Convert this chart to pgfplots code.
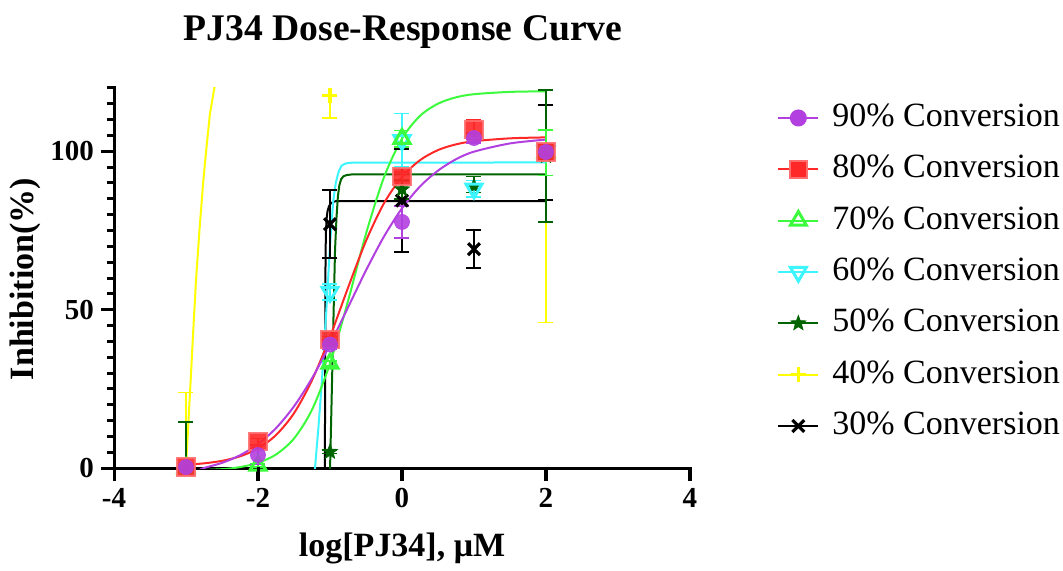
\documentclass[border=0pt]{standalone}
\usepackage{fontspec}
\setmainfont{Liberation Serif}
\usepackage{pgfplots}
\pgfplotsset{compat=1.18}
\usepackage{pgfplotstable}

\definecolor{cPurple}{RGB}{178,64,224}
\definecolor{cRed}{RGB}{255,40,40}
\definecolor{cRedE}{RGB}{255,110,110}
\definecolor{cLime}{RGB}{60,250,60}
\definecolor{cCyan}{RGB}{60,245,255}
\definecolor{cDkGreen}{RGB}{0,100,0}
\definecolor{cYellow}{RGB}{255,255,0}

\pgfdeclareplotmark{fstar}{%
  \pgfpathmoveto{\pgfpointpolar{90}{\pgfplotmarksize}}%
  \pgfpathlineto{\pgfpointpolar{126}{0.42\pgfplotmarksize}}%
  \pgfpathlineto{\pgfpointpolar{162}{\pgfplotmarksize}}%
  \pgfpathlineto{\pgfpointpolar{198}{0.42\pgfplotmarksize}}%
  \pgfpathlineto{\pgfpointpolar{234}{\pgfplotmarksize}}%
  \pgfpathlineto{\pgfpointpolar{270}{0.42\pgfplotmarksize}}%
  \pgfpathlineto{\pgfpointpolar{306}{\pgfplotmarksize}}%
  \pgfpathlineto{\pgfpointpolar{342}{0.42\pgfplotmarksize}}%
  \pgfpathlineto{\pgfpointpolar{18}{\pgfplotmarksize}}%
  \pgfpathlineto{\pgfpointpolar{54}{0.42\pgfplotmarksize}}%
  \pgfpathclose
  \pgfusepathqfillstroke
}

\pgfplotstableread{
x y ep em
-3 0.3 0 0
-2 4.1 3 3
-1 39 1.5 1.5
0 77.7 5.1 5.1
1 104.2 1.5 1.5
2 99.8 1.6 1.6
}\tPurple
\pgfplotstableread{
x y ep em
-3 0.3 0.5 0.5
-2 8.3 1 1
-1 40.5 1 1
0 92 1.5 1.5
1 106.8 3 3
2 99.8 2.6 2.6
}\tRed
\pgfplotstableread{
x y ep em
-3 0 0 0
-2 0.8 0.5 0.5
-1 33 0.8 0.8
0 104 2.6 2.6
2 99.6 7.2 7.2
}\tLime
\pgfplotstableread{
x y ep em
-1 55.6 2.6 2.6
0 103.5 8.5 8.5
1 88.2 2.6 2.6
2 100 2 2
}\tCyan
\pgfplotstableread{
x y ep em
-3 0 14.6 0
-1 5.1 0.5 0.5
0 88 3 3
1 89 3 2
2 98.5 20.8 20.8
}\tDkGreen
\pgfplotstableread{
x y ep em
-3 0 23.8 0
-1 117.7 0 7.1
2 100 0 54
}\tYellow
\pgfplotstableread{
x y ep em
-1 77 10.8 10.8
0 84.45 16.35 16.35
1 69.1 6 6
2 99.5 15 15
}\tBlack

\begin{document}
\begin{tikzpicture}
\begin{axis}[
  at={(0,0)}, anchor=south west,
  scale only axis, width=288pt, height=190pt,
  xmin=-4, xmax=4, ymin=0, ymax=120,
  axis lines=left,
  axis line style={line width=1.5pt, -},
  xtick={-4,-2,0,2,4}, ytick={0,50,100},
  minor ytick={5,10,15,20,25,30,35,40,45,55,60,65,70,75,80,85,90,95,105,110,115,120},
  tick align=outside,
  major tick length=6.5pt, minor tick length=3.5pt,
  tick style={black, line width=1.5pt},
  /pgf/number format/assume math mode=true,
  ticklabel style={font=\bfseries\fontsize{14.5}{16}\selectfont},
  legend image code/.code={\draw[mark repeat=2,mark phase=2,#1] plot coordinates {(0pt,0pt) (10pt,0pt) (20pt,0pt)};},
  legend style={draw=none, fill=none, at={(axis description cs:1.151,0.963)}, anchor=north west,
    font=\fontsize{17}{20}\selectfont, inner sep=0pt, row sep=10.17pt, column sep=6.5pt,
    nodes={inner sep=0pt, text height=12pt, text depth=3.5pt}},
  legend cell align=left,
  error bars/error bar style={line width=0.8pt, solid},
  error bars/error mark options={rotate=90, mark size=3.75pt, line width=0.8pt, solid},
]
% legend images
\addlegendimage{cPurple, line width=1pt, mark=*, mark size=3.75pt, mark options={fill=cPurple, draw=cPurple}}
\addlegendentry{90\% Conversion}
\addlegendimage{cRed, line width=1pt, mark=square*, mark size=4.3pt, mark options={fill=cRed, draw=cRedE, line width=1pt}}
\addlegendentry{80\% Conversion}
\addlegendimage{cLime, line width=1pt, mark=triangle, mark size=4.6pt, mark options={draw=cLime, line width=1.5pt}}
\addlegendentry{70\% Conversion}
\addlegendimage{cCyan, line width=1pt, mark=triangle, mark size=4.6pt, mark options={draw=cCyan, line width=1.5pt, rotate=180}}
\addlegendentry{60\% Conversion}
\addlegendimage{cDkGreen, line width=1pt, mark=fstar, mark size=4pt, mark options={fill=cDkGreen, draw=cDkGreen, line width=0.3pt}}
\addlegendentry{50\% Conversion}
\addlegendimage{cYellow, line width=1pt, mark=+, mark size=3.75pt, mark options={line width=1.6pt}}
\addlegendentry{40\% Conversion}
\addlegendimage{black, line width=1pt, mark=x, mark size=4.2pt, mark options={line width=1.6pt}}
\addlegendentry{30\% Conversion}

% fitted curves
\addplot[forget plot, black, line width=1pt, no markers] coordinates {
(-1.075,-10) (-1.068,20) (-1.065,50) (-1.062,66) (-1.057,74) (-1.048,78.5) (-1.035,81) (-1.015,82.6) (-0.99,83.5) (-0.96,84.0) (-0.92,84.25) (-0.85,84.3) (2,84.3)};
\addplot[forget plot, cYellow, line width=1pt, no markers] coordinates {
(-3,0.5) (-2.97,13) (-2.935,27.8) (-2.9,43) (-2.861,59.3) (-2.81,76) (-2.759,90.9) (-2.71,102.5) (-2.667,111.9) (-2.61,119.5) (-2.59,122)};
\addplot[forget plot, cDkGreen, line width=1pt, no markers] coordinates {
(-1.01,-10) (-1.0,-1) (-0.99,9) (-0.978,21) (-0.962,37) (-0.945,54) (-0.93,68.8) (-0.91,79) (-0.89,85.8) (-0.87,89.3) (-0.845,91.2) (-0.815,92.1) (-0.77,92.5) (-0.7,92.7) (2,92.7)};
\addplot[forget plot, cCyan, line width=1pt, no markers] coordinates {
(-1.23,-6) (-1.208,0) (-1.16,13) (-1.115,26.7) (-1.085,37) (-1.056,47.7) (-1.03,58) (-1.009,67) (-0.98,77) (-0.954,84.5) (-0.92,90) (-0.88,93.6) (-0.838,95.5) (-0.78,96.2) (-0.7,96.4) (2,96.5)};
\addplot[forget plot, cLime, line width=1pt, no markers, smooth] coordinates {
(-3,-0.85) (-2.5,-0.37) (-2.25,0.29) (-2,1.62) (-1.75,4.26) (-1.5,9.31) (-1.25,18.39) (-1,33.0) (-0.75,52.7) (-0.5,73.95) (-0.25,91.8) (0,104) (0.25,111.2) (0.5,115.05) (0.75,117.05) (1,118.04) (1.5,118.77) (2,118.95)};
\addplot[forget plot, cRed, line width=1pt, no markers, smooth] coordinates {
(-3,1.03) (-2.75,1.47) (-2.5,2.26) (-2.25,3.68) (-2,6.17) (-1.75,10.4) (-1.5,17.3) (-1.25,27.7) (-1,41.4) (-0.75,56.9) (-0.5,71.7) (-0.25,83.6) (0,91.9) (0.25,97.2) (0.5,100.4) (0.75,102.2) (1,103.2) (1.5,104.1) (2,104.4)};
\addplot[forget plot, cPurple, line width=1pt, no markers, smooth] coordinates {
(-2.85,-1) (-2.75,0.0) (-2.5,1.62) (-2.25,4.02) (-2,7.55) (-1.75,12.58) (-1.5,19.46) (-1.25,28.33) (-1,39.0) (-0.75,50.7) (-0.5,62.4) (-0.25,73.1) (0,82.0) (0.25,88.9) (0.5,93.9) (0.75,97.5) (1,99.9) (1.5,102.5) (2,103.7)};

% data points with error bars
\addplot[forget plot, only marks, black, mark=x, mark size=4.2pt, mark options={line width=1.6pt},
  error bars/.cd, y dir=both, y explicit, error bar style={line width=1pt}, error mark options={rotate=90, mark size=3.75pt, line width=1pt}]
  table[x=x, y=y, y error plus=ep, y error minus=em] {\tBlack};
\addplot[forget plot, only marks, cYellow, mark=+, mark size=3.75pt, mark options={line width=1.6pt},
  error bars/.cd, y dir=both, y explicit]
  table[x=x, y=y, y error plus=ep, y error minus=em] {\tYellow};
\addplot[forget plot, only marks, cDkGreen, mark=fstar, mark size=4pt, mark options={fill=cDkGreen, draw=cDkGreen, line width=0.3pt},
  error bars/.cd, y dir=both, y explicit]
  table[x=x, y=y, y error plus=ep, y error minus=em] {\tDkGreen};
\addplot[forget plot, only marks, cCyan, mark=triangle, mark size=4.6pt, mark options={draw=cCyan, line width=1.5pt, rotate=180},
  error bars/.cd, y dir=both, y explicit]
  table[x=x, y=y, y error plus=ep, y error minus=em] {\tCyan};
\addplot[forget plot, only marks, cLime, mark=triangle, mark size=4.6pt, mark options={draw=cLime, line width=1.5pt},
  error bars/.cd, y dir=both, y explicit]
  table[x=x, y=y, y error plus=ep, y error minus=em] {\tLime};
\addplot[forget plot, only marks, cRed, mark=square*, mark size=4.3pt, mark options={fill=cRed, draw=cRedE, line width=1pt, opacity=0.9},
  error bars/.cd, y dir=both, y explicit]
  table[x=x, y=y, y error plus=ep, y error minus=em] {\tRed};
\addplot[forget plot, only marks, cPurple, mark=*, mark size=3.75pt, mark options={fill=cPurple, draw=cPurple, opacity=0.9},
  error bars/.cd, y dir=both, y explicit]
  table[x=x, y=y, y error plus=ep, y error minus=em] {\tPurple};
\end{axis}
% axis tick marks as filled bars (axis at origin, 288pt x 190pt)
\foreach \tk in {0,72,144,216,288} \fill[black] ({\tk*1pt-0.75pt},0.75pt) rectangle ({\tk*1pt+0.75pt},-6.5pt);
\foreach \tk in {0,50,100} \fill[black] (0.75pt,{\tk*1.5833333pt-0.75pt}) rectangle (-6.5pt,{\tk*1.5833333pt+0.75pt});
\foreach \tk in {5,10,15,20,25,30,35,40,45,55,60,65,70,75,80,85,90,95,105,110,115,120} \fill[black] (0.75pt,{\tk*1.5833333pt-0.75pt}) rectangle (-3.5pt,{\tk*1.5833333pt+0.75pt});
\node[anchor=base, font=\bfseries\fontsize{18.8}{22}\selectfont] at (144.5pt,213.6pt) {PJ34 Dose-Response Curve};
\node[anchor=base, font=\bfseries\fontsize{17}{20}\selectfont] at (144pt,-44pt) {log[PJ34], μM};
\node[rotate=90, anchor=center, font=\bfseries\fontsize{17}{20}\selectfont] at (-44.5pt,94.5pt) {Inhibition(\%)};
\path (-57pt,-48.5pt) rectangle (474.5pt,234pt);
\end{tikzpicture}
\end{document}
